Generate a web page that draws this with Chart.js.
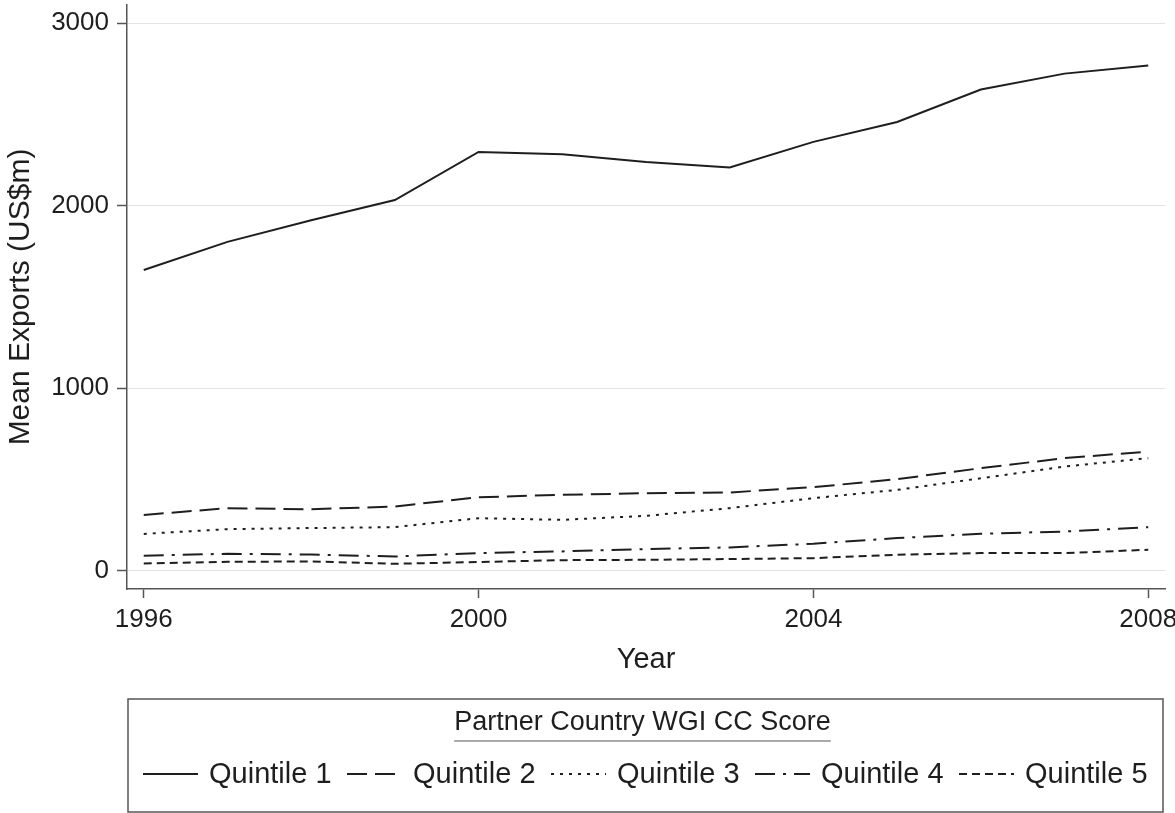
<!DOCTYPE html>
<html>
<head>
<meta charset="utf-8">
<title>Mean Exports by Partner Country WGI CC Score</title>
<script src="https://cdn.jsdelivr.net/npm/chart.js@4/dist/chart.umd.min.js"></script>
<style>
  html, body { margin: 0; padding: 0; background: #ffffff; }
  canvas { display: block; }
</style>
</head>
<body>
<canvas id="chart" width="1175" height="813"></canvas>
<script>
// Years on the horizontal axis
const years = [1996, 1997, 1998, 1999, 2000, 2001, 2002, 2003, 2004, 2005, 2006, 2007, 2008];

// Mean exports (US$m) per quintile of partner-country WGI CC score
const quintile1 = [1648, 1802, 1921, 2031, 2295, 2282, 2240, 2210, 2350, 2459, 2637, 2724, 2768];
const quintile2 = [306, 343, 337, 352, 403, 416, 425, 429, 458, 502, 562, 617, 653];
const quintile3 = [202, 228, 234, 239, 288, 279, 301, 343, 398, 443, 507, 571, 617];
const quintile4 = [82, 93, 89, 78, 97, 106, 119, 128, 148, 179, 203, 215, 239];
const quintile5 = [40, 49, 51, 38, 48, 58, 60, 64, 69, 88, 97, 97, 115];

const seriesNames = ['Quintile 1', 'Quintile 2', 'Quintile 3', 'Quintile 4', 'Quintile 5'];

// Tick labels
const yearTicks = [1996, 2000, 2004, 2008];
const valueTicks = [0, 1000, 2000, 3000];

const legendTitle = 'Partner Country WGI CC Score';
const xTitle = 'Year';
const yTitle = 'Mean Exports (US$m)';

const FONT = '"Liberation Sans", Arial, Helvetica, sans-serif';
const INK = '#1e1e1e';
const AXIS = '#555555';

const dashes = [[], [20, 8], [3, 6], [20, 8, 3, 8], [8, 5]];
const allSeries = [quintile1, quintile2, quintile3, quintile4, quintile5];

const datasets = allSeries.map((vals, i) => ({
  label: seriesNames[i],
  data: years.map((yr, j) => ({ x: yr, y: vals[j] })),
  borderColor: INK,
  borderWidth: 2,
  borderDash: dashes[i],
  pointRadius: 0,
  tension: 0,
  fill: false
}));

// Boxed legend with an underlined title, drawn under the axes
const boxedLegend = {
  id: 'boxedLegend',
  afterDraw(chart) {
    const ctx = chart.ctx;
    const left = chart.chartArea.left + 1;
    const right = 1163;
    const top = 699;
    const bottom = 812;
    ctx.save();
    ctx.strokeStyle = AXIS;
    ctx.lineWidth = 1.5;
    ctx.strokeRect(left, top, right - left, bottom - top);

    // title
    ctx.fillStyle = INK;
    ctx.font = '27px ' + FONT;
    ctx.textAlign = 'center';
    ctx.textBaseline = 'alphabetic';
    const cx = (left + right) / 2 - 3;
    ctx.fillText(legendTitle, cx, 730);
    const tw = ctx.measureText(legendTitle).width;
    ctx.beginPath();
    ctx.lineWidth = 1.2;
    ctx.moveTo(cx - tw / 2, 741);
    ctx.lineTo(cx + tw / 2, 741);
    ctx.stroke();

    // entries, one per equal-width column
    ctx.font = '29px ' + FONT;
    ctx.textAlign = 'left';
    ctx.textBaseline = 'middle';
    const n = chart.data.datasets.length;
    const colW = (right - left - 15) / n;
    const y = 774;
    chart.data.datasets.forEach((ds, i) => {
      const x = left + 15 + i * colW;
      ctx.beginPath();
      ctx.setLineDash(ds.borderDash || []);
      ctx.lineWidth = ds.borderWidth;
      ctx.strokeStyle = ds.borderColor;
      ctx.moveTo(x, y);
      ctx.lineTo(x + 55, y);
      ctx.stroke();
      ctx.setLineDash([]);
      ctx.fillStyle = INK;
      ctx.fillText(ds.label, x + 66, y + 1);
    });
    ctx.restore();
  }
};

new Chart(document.getElementById('chart'), {
  type: 'line',
  data: { datasets },
  options: {
    responsive: false,
    animation: false,
    layout: { padding: { left: 0, top: 5, right: 10, bottom: 136 } },
    plugins: { legend: { display: false }, tooltip: { enabled: false } },
    scales: {
      x: {
        type: 'linear',
        min: 1995.8,
        max: 2008.2,
        afterBuildTicks(scale) { scale.ticks = yearTicks.map(v => ({ value: v })); },
        afterFit(scale) { scale.height = 88; scale.paddingLeft = 0; scale.paddingRight = 0; },
        ticks: {
          color: INK,
          font: { family: FONT, size: 26 },
          padding: 6,
          maxRotation: 0,
          callback: (v) => String(v)
        },
        grid: { drawOnChartArea: false, drawTicks: true, tickLength: 9, tickColor: AXIS, tickWidth: 1.5 },
        border: { display: true, color: AXIS, width: 1.5 },
        title: { display: true, text: xTitle, color: INK, font: { family: FONT, size: 29 }, padding: 0 }
      },
      y: {
        min: -100,
        max: 3100,
        afterBuildTicks(scale) { scale.ticks = valueTicks.map(v => ({ value: v })); },
        afterFit(scale) { scale.width = 127; scale.paddingTop = 0; scale.paddingBottom = 0; },
        ticks: {
          color: INK,
          font: { family: FONT, size: 26 },
          padding: 8,
          callback: (v) => String(v)
        },
        grid: { drawOnChartArea: true, color: '#e2e2e2', lineWidth: 1, drawTicks: true, tickLength: 10, tickColor: AXIS, tickWidth: 1.5 },
        border: { display: true, color: AXIS, width: 1.5 },
        title: { display: true, text: yTitle, color: INK, font: { family: FONT, size: 30 }, padding: { top: 3, bottom: 0 } }
      }
    }
  },
  plugins: [boxedLegend]
});
</script>
</body>
</html>
